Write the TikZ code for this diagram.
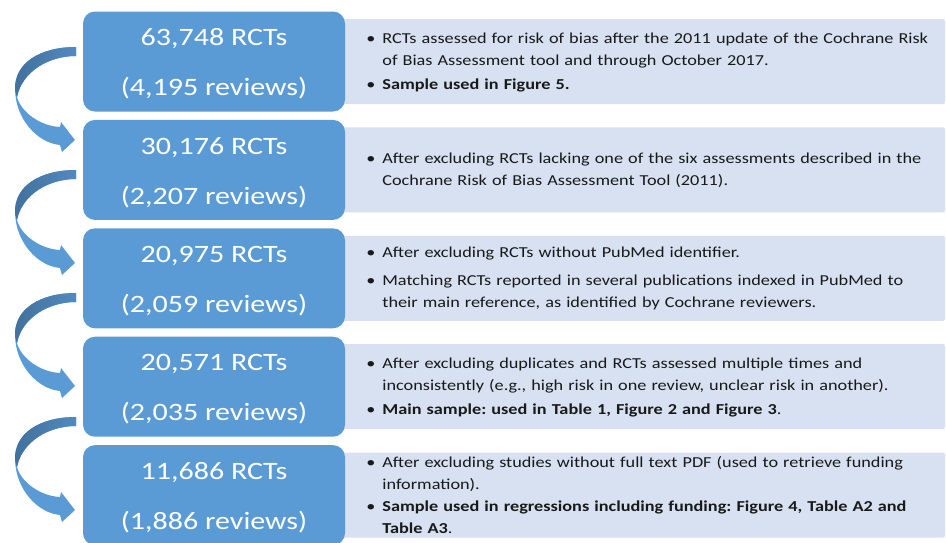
\documentclass[tikz,border=0pt]{standalone}
\usepackage{fontspec}
\setmainfont{Carlito}[FakeStretch=1.2]
\usetikzlibrary{positioning,backgrounds}
\definecolor{boxblue}{HTML}{5B9BD5}
\definecolor{notefill}{HTML}{D7E1F1}
\definecolor{arrowdark}{HTML}{41719C}
\definecolor{arrowmid}{HTML}{5289C0}
\newcommand\counts[2]{\rule{0pt}{22pt}#1\\#2}
\newcommand\noteitem[1]{\par\hangindent=16pt\hangafter=1\noindent\makebox[16pt][l]{•}#1\par}
\tikzset{
  countbox/.style={fill=boxblue, rounded corners=12pt, minimum width=262pt, minimum height=100pt,
    text=white, align=center, font=\fontsize{25}{50}\selectfont},
  notetext/.style={right=21pt of #1, yshift=6pt, inner sep=0pt, text width=585pt, align=left, text=black!90,
    font=\fontsize{15.2}{22}\selectfont\frenchspacing, execute at begin node={\setlength{\parskip}{2pt}}},
  notebg/.style={fill=notefill, rounded corners=2pt},
  pics/bendarrow/.style={code={
    \fill[boxblue] (0,0) .. controls (-36,0) and (-62,16) .. (-61,43)
      .. controls (-60,73) and (-38,96) .. (-16,98) -- (-14,105) -- (-1,93) -- (-15,75) -- (-16,80)
      .. controls (-36,79) and (-55,65) .. (-59,50) .. controls (-54,25) and (-28,9) .. (0,9) -- cycle;
    \shade[left color=arrowdark, right color=arrowmid] (0,0) .. controls (-36,0) and (-62,16) .. (-61,43)
      -- (-59,50) .. controls (-54,25) and (-28,9) .. (0,9) -- cycle;
  }},
}
\begin{document}
\begin{tikzpicture}[x=1pt, y=-1pt]
\useasboundingbox (0,0) rectangle (946,542);
\node[countbox] (n1) at (214,61.5) {\counts{63,748 RCTs}{(4,195 reviews)}};
\node[countbox, below=8pt of n1] (n2) {\counts{30,176 RCTs}{(2,207 reviews)}};
\node[countbox, below=8pt of n2] (n3) {\counts{20,975 RCTs}{(2,059 reviews)}};
\node[countbox, below=8pt of n3] (n4) {\counts{20,571 RCTs}{(2,035 reviews)}};
\node[countbox, below=8pt of n4] (n5) {\counts{11,686 RCTs}{(1,886 reviews)}};

\node[notetext=n1] (t1) {\noteitem{RCTs assessed for risk of bias after the 2011 update of the Cochrane Risk\newline of Bias Assessment tool and through October 2017.}
  \noteitem{\textbf{Sample used in Figure 5.}}};
\node[notetext=n2] (t2) {\noteitem{After excluding RCTs lacking one of the six assessments described in the\newline Cochrane Risk of Bias Assessment Tool (2011).}};
\node[notetext=n3, yshift=3pt, execute at begin node={\setlength{\parskip}{6pt}}] (t3) {\noteitem{After excluding RCTs without PubMed identifier.}
  \noteitem{Matching RCTs reported in several publications indexed in PubMed to\newline their main reference, as identified by Cochrane reviewers.}};
\node[notetext=n4] (t4) {\noteitem{After excluding duplicates and RCTs assessed multiple times and\newline inconsistently (e.g., high risk in one review, unclear risk in another).}
  \noteitem{\textbf{Main sample: used in Table 1, Figure 2 and Figure 3}.}};
\node[notetext=n5, execute at begin node={\setlength{\parskip}{0pt}}] (t5) {\noteitem{After excluding studies without full text PDF (used to retrieve funding\newline information).}
  \noteitem{\textbf{Sample used in regressions including funding: Figure 4, Table A2 and\newline Table A3}.}};

\begin{scope}[on background layer]
\foreach \i in {1,...,5}
  \fill[notebg, shift={(n\i.center)}] (120,-42.5) rectangle (731,42.5);
\end{scope}

\foreach \y in {47,170,293,417}
  \pic at (76,\y) {bendarrow};
\end{tikzpicture}
\end{document}
